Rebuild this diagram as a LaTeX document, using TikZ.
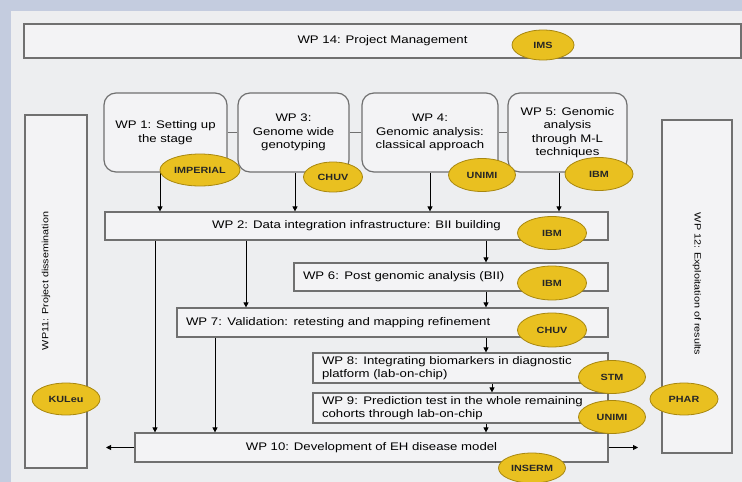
\documentclass[tikz,border=0pt]{standalone}
\usepackage{fontspec}
\setmainfont{Liberation Sans}[FakeStretch=1.2]
\usetikzlibrary{shapes.geometric,arrows.meta}

\definecolor{bandblue}{HTML}{C4CCDF}
\definecolor{panelgray}{HTML}{EDEEF0}
\definecolor{boxgray}{HTML}{F3F3F5}
\definecolor{edgegray}{HTML}{707070}
\definecolor{gold}{HTML}{E9C020}
\definecolor{golddark}{HTML}{A8870F}

\tikzset{
  wpbox/.style={draw=edgegray, fill=boxgray, line width=1.2pt, inner sep=0pt},
  wptop/.style={wpbox, rounded corners=12pt, align=center},
  wpleft/.style={wpbox, align=left, inner xsep=9pt},
  partner/.style={ellipse, draw=golddark, fill=gold, line width=0.8pt, inner sep=0pt,
    text=black!85, font=\fontsize{9}{10}\selectfont\bfseries},
  arr/.style={-{Triangle[length=5pt,width=5pt]}, line width=0.8pt},
  link/.style={draw=edgegray, line width=1.2pt},
}

\begin{document}
\begin{tikzpicture}[x=1pt, y=-1pt, font=\fontsize{11}{13.5}\selectfont]
    \fill[bandblue] (0,0) rectangle (742,482);
    \fill[panelgray] (11,11) rectangle (742,482);
    \useasboundingbox (0,0) rectangle (742,482);
    %
    \node[wpbox, minimum width=717pt, minimum height=34pt] (wp14) at (382.5,41) {WP 14: Project Management};
    %
    \node[wptop, minimum width=123pt, minimum height=79pt] (wp1) at (165.5,132.5) {WP 1: Setting up\\the stage};
    \node[wptop, minimum width=111pt, minimum height=79pt] (wp3) at (293.5,132.5) {WP 3:\\Genome wide\\genotyping};
    \node[wptop, minimum width=136pt, minimum height=79pt] (wp4) at (430,132.5) {WP 4:\\Genomic analysis:\\classical approach};
    \node[wptop, minimum width=119pt, minimum height=79pt] (wp5) at (567.5,132.5) {WP 5: Genomic\\analysis\\through M-L\\techniques};
    \draw[link] (wp1.east) -- (wp3.west);
    \draw[link] (wp3.east) -- (wp4.west);
    \draw[link] (wp4.east) -- (wp5.west);
    %
    \node[wpbox, minimum width=503pt, minimum height=28pt] (wp2) at (356.5,226) {WP 2: Data integration infrastructure: BII building};
    \node[wpleft, text width=296pt, minimum height=28pt] (wp6) at (451,277) {WP 6: Post genomic analysis (BII)};
    \node[wpleft, text width=413pt, minimum height=29pt] (wp7) at (392.5,322.5) {WP 7: Validation: retesting and mapping refinement};
    \node[wpleft, text width=277pt, minimum height=30pt] (wp8) at (460.5,368) {WP 8: Integrating biomarkers in diagnostic\\platform (lab-on-chip)};
    \node[wpleft, text width=277pt, minimum height=30pt] (wp9) at (460.5,408) {WP 9: Prediction test in the whole remaining\\cohorts through lab-on-chip};
    \node[wpbox, minimum width=473pt, minimum height=29pt] (wp10) at (371.5,447.5) {WP 10: Development of EH disease model};
    %
    \node[wpbox, minimum width=62pt, minimum height=353pt] (wp11) at (56,291.5) {};
    \node[rotate=90, font=\fontsize{9}{10}\selectfont] (wp11t) at (46,281) {WP11: Project dissemination};
    \node[wpbox, minimum width=70pt, minimum height=333pt] (wp12) at (697,286.5) {};
    \node[rotate=-90, font=\fontsize{9}{10}\selectfont] (wp12t) at (697,284) {WP 12: Exploitation of results};
    %
    \draw[arr] (wp1.south -| 160,0) -- (wp2.north -| 160,0);
    \draw[arr] (wp3.south -| 295,0) -- (wp2.north -| 295,0);
    \draw[arr] (wp4.south -| 430,0) -- (wp2.north -| 430,0);
    \draw[arr] (wp5.south -| 559,0) -- (wp2.north -| 559,0);
    \draw[arr] (wp2.south -| 486,0) -- (wp6.north -| 486,0);
    \draw[arr] (wp6.south -| 486,0) -- (wp7.north -| 486,0);
    \draw[arr] (wp7.south -| 486,0) -- (wp8.north -| 486,0);
    \draw[arr] (wp8.south -| 492,0) -- (wp9.north -| 492,0);
    \draw[arr] (wp9.south -| 486,0) -- (wp10.north -| 486,0);
    \draw[arr] (wp2.south -| 155,0) -- (wp10.north -| 155,0);
    \draw[arr] (wp2.south -| 246,0) -- (wp7.north -| 246,0);
    \draw[arr] (wp7.south -| 215,0) -- (wp10.north -| 215,0);
    \coordinate (outL) at (106,447.5);
    \coordinate (outR) at (638,447.5);
    \draw[arr] (wp10.west) -- (outL);
    \draw[arr] (wp10.east) -- (outR);
    %
    \node[partner, minimum width=62pt, minimum height=30pt] (ims) at (543,45) {IMS};
    \node[partner, minimum width=80pt, minimum height=32pt] (imperial) at (200,170) {IMPERIAL};
    \node[partner, minimum width=59pt, minimum height=30pt] (chuvA) at (333,177) {CHUV};
    \node[partner, minimum width=67pt, minimum height=33pt] (unimiA) at (482,175) {UNIMI};
    \node[partner, minimum width=68pt, minimum height=33pt] (ibmA) at (599,174) {IBM};
    \node[partner, minimum width=69pt, minimum height=33pt] (ibmB) at (552,233) {IBM};
    \node[partner, minimum width=69pt, minimum height=34pt] (ibmC) at (552,283) {IBM};
    \node[partner, minimum width=69pt, minimum height=34pt] (chuvB) at (552,330) {CHUV};
    \node[partner, minimum width=67pt, minimum height=33pt] (stm) at (612,377) {STM};
    \node[partner, minimum width=67pt, minimum height=33pt] (unimiB) at (612,417) {UNIMI};
    \node[partner, minimum width=67pt, minimum height=30pt] (inserm) at (532,468) {INSERM};
    \node[partner, minimum width=68pt, minimum height=32pt] (kuleu) at (66,399) {KULeu};
    \node[partner, minimum width=68pt, minimum height=32pt] (phar) at (684,399) {PHAR};
\end{tikzpicture}
\end{document}
